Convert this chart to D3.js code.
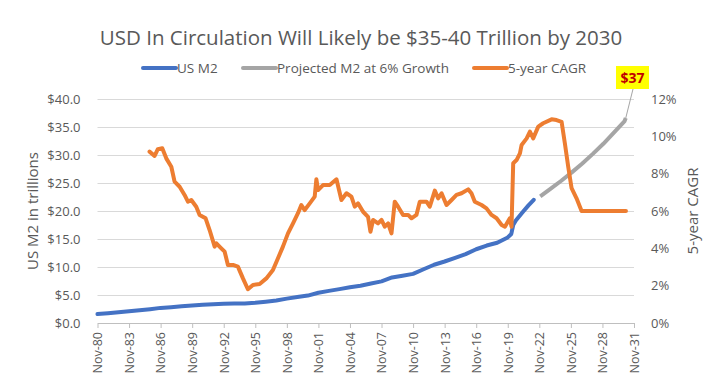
<!DOCTYPE html>
<html>
<head>
<meta charset="utf-8">
<style>
  body { margin: 0; background: #fff; }
  svg { display: block; }
  text { font-family: "Open Sans", "Noto Sans", sans-serif; fill: #595959; }
  .grid line { stroke: #d9d9d9; stroke-width: 1; }
  .grid path { display: none; }
  .axis path, .axis line { stroke: #bfbfbf; }
  .yaxis path, .yaxis line { display: none; }
</style>
</head>
<body>
<script src="https://d3js.org/d3.v7.min.js"></script>
<script>

// x positions are decimal years (Nov = .833)
var xTicks = [1980.833, 1983.833, 1986.833, 1989.833, 1992.833, 1995.833, 1998.833, 2001.833, 2004.833,
              2007.833, 2010.833, 2013.833, 2016.833, 2019.833, 2022.833, 2025.833, 2028.833, 2031.833];
var xLabels = ["Nov-80","Nov-83","Nov-86","Nov-89","Nov-92","Nov-95","Nov-98","Nov-01","Nov-04",
               "Nov-07","Nov-10","Nov-13","Nov-16","Nov-19","Nov-22","Nov-25","Nov-28","Nov-31"];

// US M2, trillions
var m2Dates = [1980.83, 1981.83, 1982.83, 1983.83, 1984.83, 1985.83, 1986.83, 1987.83, 1988.83, 1989.83,
               1990.83, 1991.83, 1992.83, 1993.83, 1994.83, 1995.83, 1996.83, 1997.83, 1998.83, 1999.83,
               2000.83, 2001.83, 2002.83, 2003.83, 2004.83, 2005.83, 2006.83, 2007.83, 2008.83, 2009.83,
               2010.83, 2011.83, 2012.83, 2013.83, 2014.83, 2015.83, 2016.83, 2017.83, 2018.83, 2019.83,
               2020.17, 2020.35, 2020.60, 2021.30, 2021.80, 2022.30];
var m2Values = [1.60, 1.74, 1.92, 2.11, 2.28, 2.47, 2.70, 2.82, 2.98, 3.13,
                3.26, 3.36, 3.42, 3.47, 3.49, 3.62, 3.80, 4.01, 4.35, 4.63,
                4.90, 5.40, 5.74, 6.05, 6.39, 6.66, 7.04, 7.44, 8.14, 8.45,
                8.77, 9.60, 10.40, 10.98, 11.63, 12.30, 13.17, 13.83, 14.34, 15.28,
                15.90, 17.50, 18.30, 19.90, 21.00, 22.00];

// projected M2 at 6% growth, trillions
var projDates = [2022.92, 2023.92, 2024.92, 2025.92, 2026.92, 2027.92, 2028.92, 2029.92, 2030.92, 2031.05];
var projValues = [22.6, 24.0, 25.4, 26.9, 28.5, 30.2, 32.0, 34.0, 36.0, 36.6];

// 5-year CAGR, percent
var cagrDates = [1985.78, 1986.26, 1986.57, 1986.99, 1987.37, 1987.85, 1988.16, 1988.64, 1989.11, 1989.43,
                 1989.75, 1990.22, 1990.54, 1991.11, 1991.49, 1991.97, 1992.13, 1992.60, 1992.92, 1993.23,
                 1993.71, 1994.18, 1994.66, 1995.13, 1995.61, 1996.25, 1996.88, 1997.51, 1997.99, 1998.46,
                 1998.94, 1999.42, 1999.89, 2000.21, 2000.53, 2001.01, 2001.48, 2001.64, 2001.80, 2002.27,
                 2002.91, 2003.55, 2004.02, 2004.50, 2004.97, 2005.29, 2005.60, 2006.08, 2006.55, 2006.78,
                 2007.03, 2007.50, 2007.83, 2008.14, 2008.46, 2008.78, 2009.09, 2009.41, 2009.88, 2010.36,
                 2010.68, 2011.15, 2011.47, 2012.11, 2012.42, 2012.90, 2013.21, 2013.54, 2014.01, 2014.49,
                 2014.96, 2015.44, 2016.07, 2016.38, 2016.70, 2017.34, 2017.81, 2018.29, 2018.77, 2019.25,
                 2019.56, 2020.03, 2020.19, 2020.35, 2020.67, 2020.99, 2021.15, 2021.63, 2021.94, 2022.25,
                 2022.73, 2023.20, 2024.00, 2024.47, 2024.95, 2025.26, 2025.58, 2025.90, 2026.37, 2026.85,
                 2031.07];
var cagrValues = [9.18, 8.95, 9.31, 9.36, 8.82, 8.37, 7.57, 7.30, 6.86, 6.50,
                  6.59, 6.23, 5.79, 5.61, 4.98, 4.09, 4.27, 4.00, 3.82, 3.11,
                  3.11, 3.02, 2.39, 1.81, 2.04, 2.09, 2.39, 2.84, 3.47, 4.09,
                  4.80, 5.34, 5.88, 6.32, 6.05, 6.41, 6.77, 7.70, 7.12, 7.39,
                  7.39, 7.70, 6.59, 6.95, 6.77, 6.23, 6.41, 5.96, 5.69, 4.89,
                  5.52, 5.34, 5.52, 5.16, 5.34, 4.80, 6.50, 6.23, 5.79, 5.79,
                  5.61, 5.79, 6.50, 6.50, 6.23, 7.09, 6.68, 6.95, 6.32, 6.59,
                  6.86, 6.95, 7.16, 6.95, 6.50, 6.32, 6.14, 5.79, 5.61, 5.25,
                  5.16, 5.61, 5.16, 8.56, 8.73, 9.09, 9.54, 9.89, 10.25, 9.89,
                  10.52, 10.70, 10.91, 10.87, 10.78, 9.63, 8.37, 7.22, 6.68, 6.00,
                  6.00];

var leftTicks = [0, 5, 10, 15, 20, 25, 30, 35, 40];
var rightTicks = [0, 2, 4, 6, 8, 10, 12];

var width = 722, height = 388;
var plot = {left: 97.5, right: 634, top: 99, bottom: 323};

var svg = d3.select("body").append("svg")
    .attr("width", width)
    .attr("height", height);

var x = d3.scaleLinear().domain([xTicks[0], xTicks[xTicks.length - 1]]).range([plot.left, plot.right]);
var yL = d3.scaleLinear().domain([0, 40]).range([plot.bottom, plot.top]);
var yR = d3.scaleLinear().domain([0, 12]).range([plot.bottom, plot.top]);

// title
svg.append("text")
    .attr("x", 361).attr("y", 45)
    .attr("text-anchor", "middle")
    .style("font-size", "20.5px")
    .text("USD In Circulation Will Likely be $35-40 Trillion by 2030");

// gridlines
svg.append("g").attr("class", "grid")
    .attr("transform", "translate(" + plot.left + ",0)")
    .call(d3.axisLeft(yL).tickValues(leftTicks.slice(1)).tickSize(-(plot.right - plot.left)).tickFormat(""));

// left axis
svg.append("g").attr("class", "yaxis")
    .attr("transform", "translate(" + (plot.left - 14) + ",0)")
    .call(d3.axisLeft(yL).tickValues(leftTicks).tickSize(0).tickFormat(function(d) { return "$" + d.toFixed(1); }))
    .selectAll("text").style("font-size", "13px").style("fill", "#595959");

// right axis
svg.append("g").attr("class", "yaxis")
    .attr("transform", "translate(" + (plot.right + 14) + ",0)")
    .call(d3.axisRight(yR).tickValues(rightTicks).tickSize(0).tickFormat(function(d) { return d + "%"; }))
    .selectAll("text").style("font-size", "13px").style("fill", "#595959");

// x axis
var xa = svg.append("g").attr("class", "axis")
    .attr("transform", "translate(0," + plot.bottom + ")")
    .call(d3.axisBottom(x).tickValues(xTicks).tickSize(5).tickSizeOuter(0)
      .tickFormat(function(d, i) { return xLabels[i]; }));
xa.selectAll("text")
    .style("font-size", "12.5px").style("fill", "#595959")
    .attr("transform", "rotate(-90)")
    .attr("text-anchor", "end")
    .attr("x", -9).attr("y", 0).attr("dy", "0.35em");

// axis titles
svg.append("text")
    .attr("transform", "translate(38," + (plot.top + plot.bottom) / 2 + ") rotate(-90)")
    .attr("text-anchor", "middle")
    .style("font-size", "15px")
    .text("US M2 in trillions");

svg.append("text")
    .attr("transform", "translate(698," + (plot.top + plot.bottom) / 2 + ") rotate(-90)")
    .attr("text-anchor", "middle")
    .style("font-size", "15px")
    .text("5-year CAGR");

// lines
function series(dates, values) {
  return dates.map(function(d, i) { return [d, values[i]]; });
}

var lineL = d3.line().x(function(d) { return x(d[0]); }).y(function(d) { return yL(d[1]); });
var lineR = d3.line().x(function(d) { return x(d[0]); }).y(function(d) { return yR(d[1]); });

svg.append("path")
    .datum(series(m2Dates, m2Values))
    .attr("d", lineL)
    .attr("fill", "none").attr("stroke", "#4472c4").attr("stroke-width", 4)
    .attr("stroke-linejoin", "round").attr("stroke-linecap", "round");

var proj = series(projDates, projValues);
svg.append("path")
    .datum(proj)
    .attr("d", lineL)
    .attr("fill", "none").attr("stroke", "#a5a5a5").attr("stroke-width", 4)
    .attr("stroke-linejoin", "round");

svg.append("path")
    .datum(series(cagrDates, cagrValues))
    .attr("d", lineR)
    .attr("fill", "none").attr("stroke", "#ed7d31").attr("stroke-width", 4)
    .attr("stroke-linejoin", "round").attr("stroke-linecap", "round");

// data label for last projected point
var last = proj[proj.length - 1];
svg.append("line")
    .attr("x1", x(last[0])).attr("y1", yL(last[1]))
    .attr("x2", 633).attr("y2", 89)
    .attr("stroke", "#a5a5a5").attr("stroke-width", 1);
svg.append("rect")
    .attr("x", 616).attr("y", 66).attr("width", 33).attr("height", 23)
    .attr("fill", "#ffff00");
svg.append("text")
    .attr("x", 632.5).attr("y", 83)
    .attr("text-anchor", "middle")
    .style("font-size", "14px").style("font-weight", "bold").style("fill", "#c00000")
    .text("$" + Math.round(last[1]));

// legend
var legendItems = [
  {name: "US M2", color: "#4472c4", x: 143},
  {name: "Projected M2 at 6% Growth", color: "#a5a5a5", x: 243},
  {name: "5-year CAGR", color: "#ed7d31", x: 474}
];
var lg = svg.append("g").selectAll("g").data(legendItems).enter().append("g")
    .attr("transform", function(d) { return "translate(" + d.x + ",68)"; });
lg.append("line")
    .attr("x1", 0).attr("x2", 33).attr("y1", 0).attr("y2", 0)
    .attr("stroke", function(d) { return d.color; }).attr("stroke-width", 4)
    .attr("stroke-linecap", "round");
lg.append("text")
    .attr("x", 34).attr("y", 0).attr("dy", "0.35em")
    .style("font-size", "13.5px")
    .text(function(d) { return d.name; });

</script>
</body>
</html>
